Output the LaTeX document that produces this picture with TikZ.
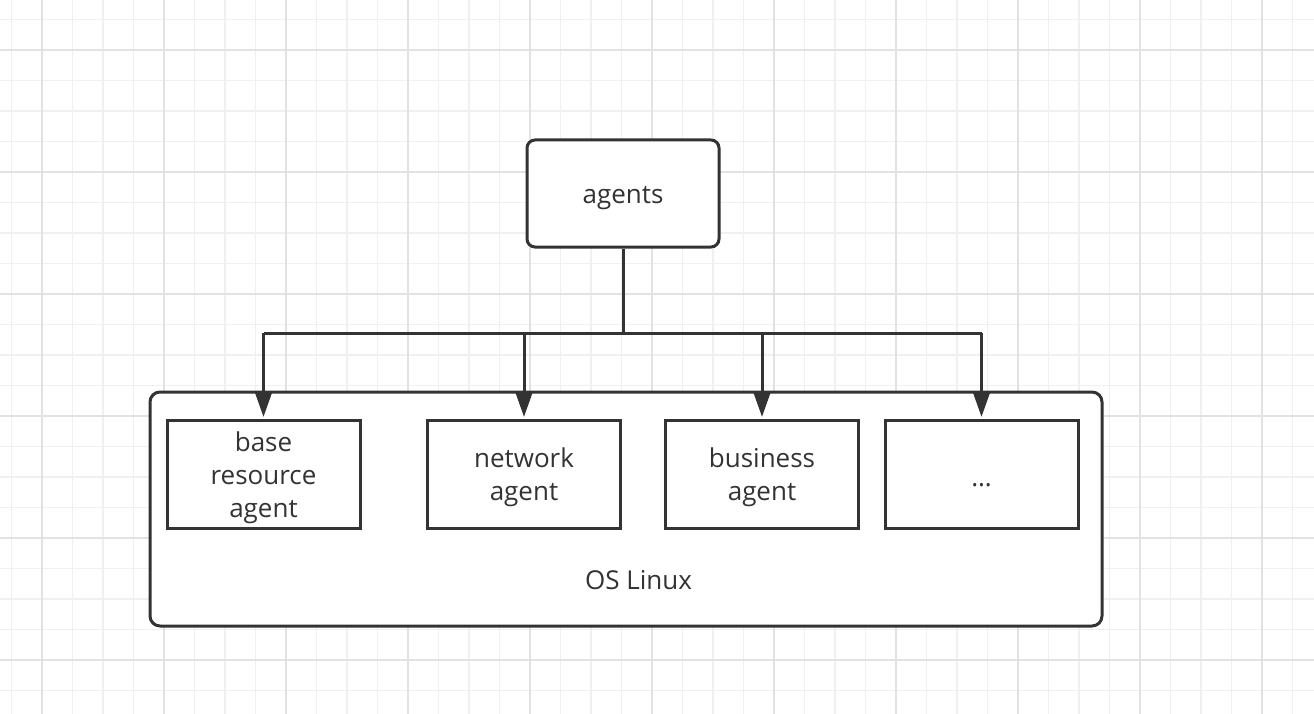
\documentclass[tikz,border=0pt]{standalone}
\usepackage{fontspec}
\setmainfont{Open Sans}
\usetikzlibrary{arrows.meta}
\definecolor{ink}{HTML}{333333}
\definecolor{gridminor}{HTML}{F0F0F0}
\definecolor{gridmajor}{HTML}{E2E2E2}
\tikzset{
  lbl/.style={font=\fontsize{26}{33}\selectfont, text=ink, align=center},
  roundbox/.style={draw=ink, line width=3pt, fill=white, rounded corners=8pt, inner sep=0pt},
  plainbox/.style={draw=ink, line width=3pt, fill=white, inner sep=0pt, minimum width=193pt, minimum height=108pt},
  conn/.style={draw=ink, line width=3pt},
  arr/.style={draw=ink, line width=3pt, -{Triangle[length=24pt,width=16pt]}},
}
\begin{document}
\begin{tikzpicture}[x=1pt,y=-1pt]
\useasboundingbox (0,0) rectangle (1314,714);
\fill[white] (0,0) rectangle (1314,714);
% grid
\foreach \i in {0,...,42} {
  \draw[gridminor, line width=1.6pt] ({11.5+30.5*\i},0) -- ({11.5+30.5*\i},714);
}
\foreach \i in {0,...,22} {
  \draw[gridminor, line width=1.6pt] (0,{19.5+30.5*\i}) -- (1314,{19.5+30.5*\i});
}
\foreach \i in {0,...,10} {
  \draw[gridmajor, line width=1.6pt] ({42+122*\i},0) -- ({42+122*\i},714);
}
\foreach \i in {0,...,5} {
  \draw[gridmajor, line width=1.6pt] (0,{50+122*\i}) -- (1314,{50+122*\i});
}
% outer OS box
\node[roundbox, rounded corners=10pt, minimum width=952pt, minimum height=234pt] (os) at (626,509) {};
\node[lbl] (oslabel) at (638.5,580) {OS Linux};
% agents box
\node[roundbox, minimum width=192pt, minimum height=107pt] (a) at (623,193.5) {};
\node[lbl] (alabel) at (623,198) {agents};
% inner boxes
\node[plainbox] (b1) at (263.5,474) {};
\node[plainbox] (b2) at (524,474) {};
\node[plainbox] (b3) at (762,474) {};
\node[plainbox] (b4) at (981.5,474) {};
\node[lbl] (t1) at (263.5,477.5) {base\\resource\\agent};
\node[lbl] (t2) at (524,477.5) {network\\agent};
\node[lbl] (t3) at (762,477.5) {business\\agent};
\node[lbl, text height=18pt, text depth=6pt] (t4) at (981.5,480) {…};
% connectors
\coordinate (j) at (623,333);
\draw[conn] (a.south) -- (j);
\draw[conn] (b1.north |- j) -- (b4.north |- j);
\foreach \b in {b1,b2,b3,b4} {
  \draw[arr] (\b.north |- j) -- ([yshift=1.5pt]\b.north);
}
\end{tikzpicture}
\end{document}
